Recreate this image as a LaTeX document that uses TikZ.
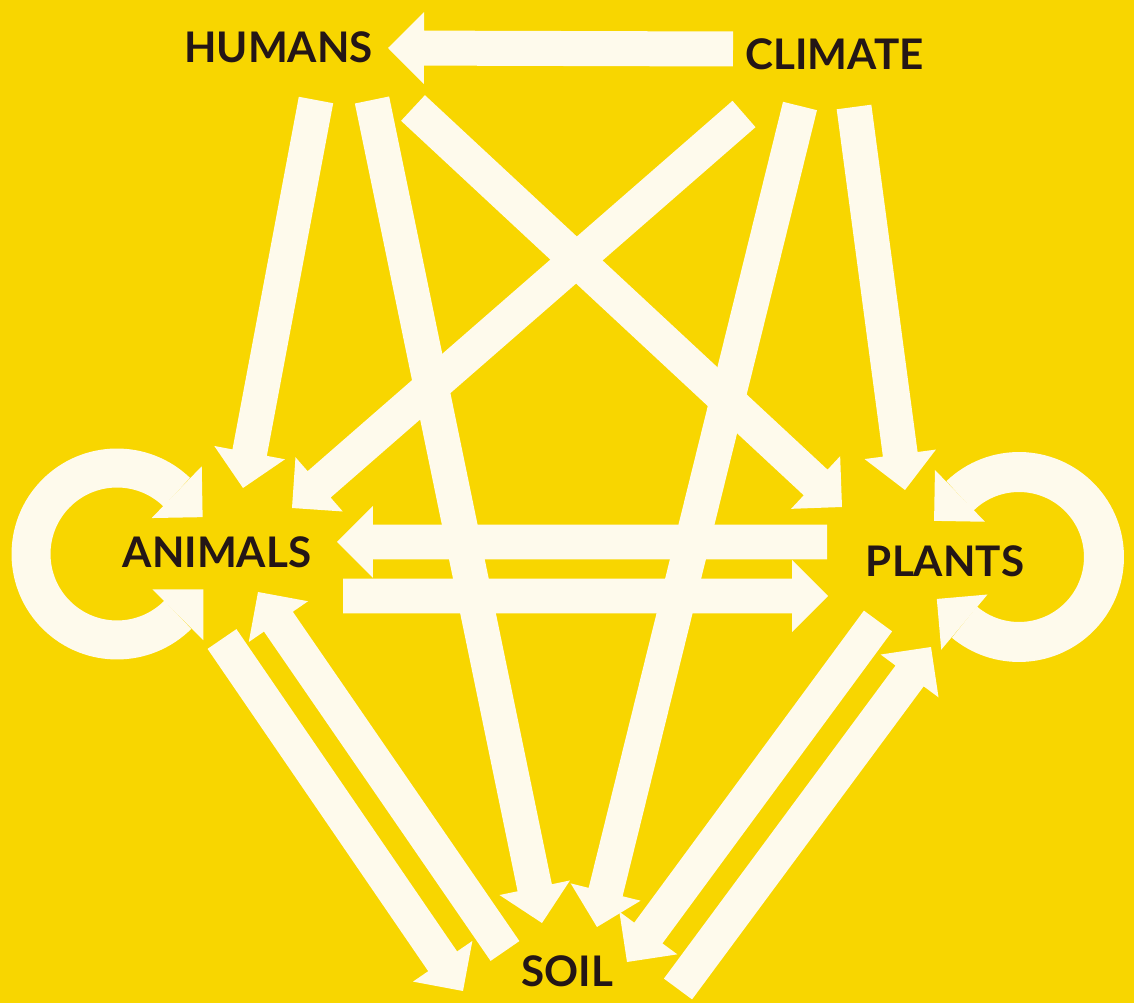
\documentclass[tikz,border=0pt]{standalone}
\usepackage{fontspec}
\setmainfont{Lato}
\usetikzlibrary{calc}
\definecolor{bg}{HTML}{F8D600}
\definecolor{cream}{HTML}{FEFAEC}
\definecolor{ink}{HTML}{241616}
\newcommand\ArrShaft{0.35cm}
\newcommand\ArrHeadW{0.72cm}
\newcommand\ArrHeadL{0.72cm}
\newcommand\fatarrow[2]{%
  \path ($(#2)!\ArrHeadL!(#1)$) coordinate (fa-b);
  \fill[cream] ($(#1)!\ArrShaft!90:(#2)$) -- ($(fa-b)!\ArrShaft!90:(#2)$)
    -- ($(fa-b)!\ArrHeadW!90:(#2)$) -- (#2) -- ($(fa-b)!\ArrHeadW!-90:(#2)$)
    -- ($(fa-b)!\ArrShaft!-90:(#2)$) -- ($(#1)!\ArrShaft!-90:(#2)$) -- cycle;}
% loop head: center, angle, radius (cm), tangent angle
\newcommand\loophead[4]{%
  \fill[cream] ($(#1)+(#2:#3cm+0.72cm)$) -- ($(#1)+(#2:#3cm)+(#4:0.72cm)$)
    -- ($(#1)+(#2:#3cm-0.72cm)$) -- cycle;}
\tikzset{lab/.style={font=\bfseries\fontsize{24}{24}\selectfont, text=ink, inner sep=0pt, anchor=base}}
\begin{document}
\begin{tikzpicture}[x=0.02cm,y=-0.02cm]
\fill[bg] (0,0) rectangle (1134,1003);
\useasboundingbox (0,0) rectangle (1134,1003);
% labels
\node[lab] (humans) at (278.5,63) {HUMANS};
\node[lab] (climate) at (834.5,70) {CLIMATE};
\node[lab] (animals) at (217,568) {ANIMALS};
\node[lab] (plants) at (945,577) {PLANTS};
\node[lab] (soil) at (567.5,987) {SOIL};
% arrow end points
\coordinate (ch-s) at (733,49);  \coordinate (ch-t) at (388,48);
\coordinate (ha-s) at (316,100); \coordinate (ha-t) at (243,488);
\coordinate (hs-s) at (372,100); \coordinate (hs-t) at (542,923);
\coordinate (hp-s) at (413,108); \coordinate (hp-t) at (842,507);
\coordinate (ca-s) at (744,114); \coordinate (ca-t) at (292,508);
\coordinate (cs-s) at (800,106); \coordinate (cs-t) at (597,927);
\coordinate (cp-s) at (854,107); \coordinate (cp-t) at (905,490);
\coordinate (pa-s) at (827,542); \coordinate (pa-t) at (337,542);
\coordinate (ap-s) at (343,596); \coordinate (ap-t) at (828,596);
\coordinate (as-s) at (222,639); \coordinate (as-t) at (463,991);
\coordinate (sa-s) at (505,951); \coordinate (sa-t) at (258,592);
\coordinate (ps-s) at (878,621); \coordinate (ps-t) at (627,962);
\coordinate (sp-s) at (678,989); \coordinate (sp-t) at (931,647);
\coordinate (lc) at (117,554);
\coordinate (rc) at (1019,557);
% straight arrows
\fatarrow{ch-s}{ch-t}
\fatarrow{ha-s}{ha-t}
\fatarrow{hs-s}{hs-t}
\fatarrow{hp-s}{hp-t}
\fatarrow{ca-s}{ca-t}
\fatarrow{cs-s}{cs-t}
\fatarrow{cp-s}{cp-t}
\fatarrow{pa-s}{pa-t}
\fatarrow{ap-s}{ap-t}
\fatarrow{as-s}{as-t}
\fatarrow{sa-s}{sa-t}
\fatarrow{ps-s}{ps-t}
\fatarrow{sp-s}{sp-t}
% self loops
\draw[cream, line width=0.78cm] ($(lc)+(46:1.72cm)$) arc[start angle=46, end angle=315, radius=1.72cm];
\loophead{lc}{46}{1.72}{-44}
\loophead{lc}{315}{1.72}{45}
\draw[cream, line width=0.8cm] ($(rc)+(134:1.70cm)$) arc[start angle=134, end angle=-130, radius=1.70cm];
\loophead{rc}{134}{1.70}{224}
\loophead{rc}{-130}{1.70}{140}
\end{tikzpicture}
\end{document}
